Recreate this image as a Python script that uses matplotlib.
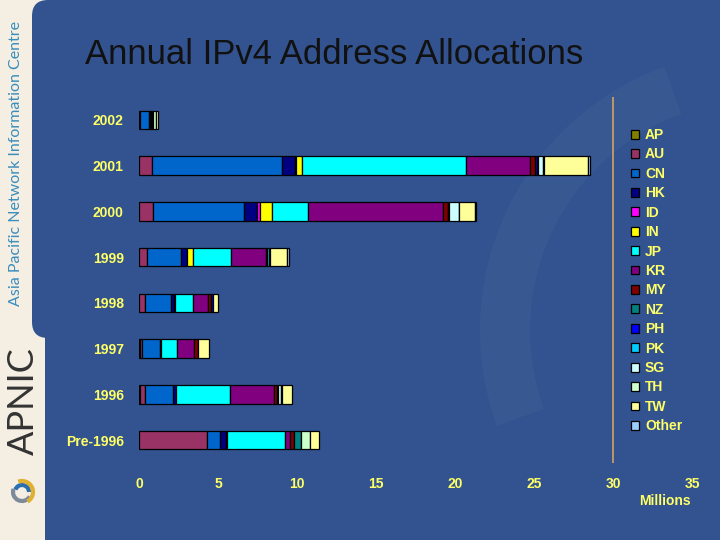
import numpy as np
import matplotlib.pyplot as plt
from matplotlib.patches import FancyBboxPatch, Patch, Arc, Wedge

# years, bottom row first
years = ["Pre-1996", "1996", "1997", "1998", "1999", "2000", "2001", "2002"]

# allocations in millions of addresses, same order as years
AP = [0.0, 0.05, 0.05, 0.0, 0.0, 0.0, 0.0, 0.0]
AU = [4.3, 0.3, 0.15, 0.37, 0.53, 0.9, 0.84, 0.05]
CN = [0.8, 1.8, 1.15, 1.63, 2.1, 5.76, 8.24, 0.6]
HK = [0.42, 0.2, 0.06, 0.23, 0.42, 0.8, 0.78, 0.05]
ID = [0.0, 0.0, 0.0, 0.0, 0.0, 0.2, 0.1, 0.0]
IN = [0.08, 0.0, 0.0, 0.05, 0.34, 0.76, 0.37, 0.0]
JP = [3.63, 3.44, 1.0, 1.15, 2.43, 2.3, 10.35, 0.05]
KR = [0.32, 2.74, 1.1, 0.95, 2.2, 8.54, 4.05, 0.1]
MY = [0.25, 0.2, 0.2, 0.15, 0.0, 0.27, 0.36, 0.0]
NZ = [0.48, 0.05, 0.0, 0.0, 0.0, 0.05, 0.0, 0.0]
PH = [0.0, 0.0, 0.0, 0.15, 0.1, 0.05, 0.1, 0.0]
PK = [0.0, 0.0, 0.0, 0.0, 0.1, 0.0, 0.05, 0.0]
SG = [0.0, 0.2, 0.0, 0.0, 0.1, 0.6, 0.3, 0.05]
TH = [0.57, 0.1, 0.0, 0.0, 0.0, 0.05, 0.1, 0.15]
TW = [0.53, 0.6, 0.7, 0.3, 1.05, 1.0, 2.8, 0.15]
Other = [0.0, 0.0, 0.0, 0.0, 0.1, 0.05, 0.1, 0.0]

economies = ["AP", "AU", "CN", "HK", "ID", "IN", "JP", "KR",
             "MY", "NZ", "PH", "PK", "SG", "TH", "TW", "Other"]
series = [AP, AU, CN, HK, ID, IN, JP, KR, MY, NZ, PH, PK, SG, TH, TW, Other]
colors = ["#808000", "#993366", "#0066cc", "#000080", "#ff00ff", "#ffff00",
          "#00ffff", "#800080", "#800000", "#008080", "#0000ff", "#00ccff",
          "#ccffff", "#ccffcc", "#ffff99", "#99ccff"]

x_ticks = [0, 5, 10, 15, 20, 25, 30, 35]

BLUE = "#32538f"
CREAM = "#f4eee3"
YELLOW = "#ffff66"

fig = plt.figure(figsize=(7.2, 5.4), dpi=100)
fig.patch.set_facecolor(CREAM)

# slide background drawn in pixel coordinates
bg = fig.add_axes([0, 0, 1, 1])
bg.set_xlim(0, 720)
bg.set_ylim(540, 0)
bg.axis("off")
bg.add_patch(FancyBboxPatch((32, 0), 760, 338, boxstyle="round,pad=0,rounding_size=16",
                            fc=BLUE, ec="none"))
bg.add_patch(FancyBboxPatch((45, 318), 760, 300, boxstyle="round,pad=0,rounding_size=16",
                            fc=BLUE, ec="none"))
# faint swirls in the background
bg.add_patch(Wedge((800, 640), 430, 100, 175, width=110, fc="white", alpha=0.035, ec="none"))
bg.add_patch(Wedge((800, 660), 330, 105, 185, width=60, fc="#1c3f86", alpha=0.3, ec="none"))
bg.add_patch(Wedge((760, 330), 280, 160, 250, width=50, fc="white", alpha=0.03, ec="none"))

# sidebar branding
bg.text(16, 163, "Asia Pacific Network Information Centre", rotation=90, ha="center",
        va="center", color="#3a8dbd", fontsize=11.5, family="Lato")
bg.text(23, 401, "APNIC", rotation=90, ha="center", va="center", color="#333333",
        fontsize=26, family="Lato")
for r, c, t1, t2 in [(9, "#7d8a9a", 30, 200), (7, "#2a6fb0", 200, 360), (11, "#e0b030", 250, 420)]:
    bg.add_patch(Arc((22, 492), r * 2, r * 2, theta1=t1, theta2=t2, color=c, lw=3))

bg.text(85, 55, "Annual IPv4 Address Allocations", ha="left", va="center",
        color="#111111", fontsize=25, family="Liberation Sans")

# chart
ax = fig.add_axes([139 / 720, 1 - 463 / 540, (692 - 139) / 720, 366 / 540])
ax.patch.set_alpha(0)
ypos = np.arange(len(years))
left = np.zeros(len(years))
for name, vals, col in zip(economies, series, colors):
    vals = np.array(vals)
    m = vals > 0
    ax.barh(ypos[m], vals[m], left=left[m], height=0.4, color=col,
            edgecolor="black", linewidth=0.9)
    left += vals

ax.axvline(30, color="#d6a260", lw=1.2)
ax.set_xlim(0, 35)
ax.set_ylim(-0.5, 7.5)
ax.set_xticks(x_ticks)
ax.set_xticklabels([str(t) for t in x_ticks])
ax.set_yticks(ypos)
ax.set_yticklabels(years)
for s in ax.spines.values():
    s.set_visible(False)
ax.tick_params(length=0, colors=YELLOW)
ax.tick_params(axis="x", pad=10)
ax.tick_params(axis="y", pad=11)
for lab in ax.get_xticklabels() + ax.get_yticklabels():
    lab.set_fontweight("bold")
    lab.set_fontsize(10)
    lab.set_family("Liberation Sans")

fig.text(665 / 720, 1 - 501 / 540, "Millions", ha="center", va="center",
         color=YELLOW, fontsize=10, fontweight="bold", family="Liberation Sans")

handles = [Patch(facecolor=c, edgecolor="black", linewidth=0.9, label=n)
           for n, c in zip(economies, colors)]
leg = ax.legend(handles=handles, loc="upper left", bbox_to_anchor=(631 / 720, 1 - 128 / 540),
                bbox_transform=fig.transFigure, frameon=False, borderpad=0,
                borderaxespad=0, handlelength=0.6, handleheight=0.6,
                handletextpad=0.4, labelspacing=0.39,
                prop={"family": "Liberation Sans", "weight": "bold", "size": 10})
for t in leg.get_texts():
    t.set_color(YELLOW)

fig.savefig("out.png", dpi=100, facecolor=fig.get_facecolor())
